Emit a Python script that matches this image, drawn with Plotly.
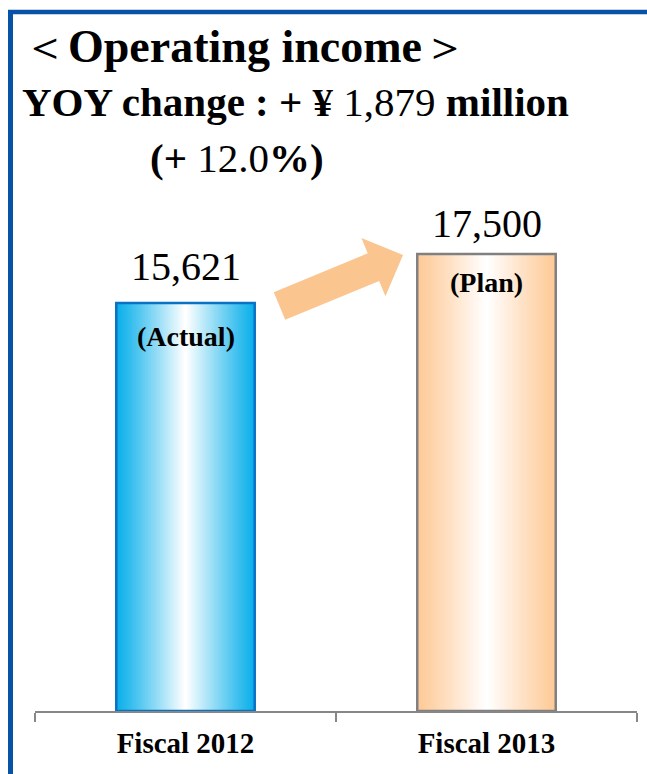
import plotly.graph_objects as go

# Operating income, millions of yen
categories = ["Fiscal 2012", "Fiscal 2013"]
values = [15621, 17500]
bar_tags = ["(Actual)", "(Plan)"]
yoy_change = 1879
yoy_pct = 12.0

W, H = 647, 774
M_L, M_R, M_T, M_B = 35, 10, 180, 63
PLOT_W = W - M_L - M_R
PLOT_H = H - M_T - M_B
Y_MAX = 20332

SERIF = "Liberation Serif"
EDGE_COLORS = [(12, 176, 234), (254, 202, 152)]
OUTLINE_COLORS = ["#0A72C4", "#808080"]
BAR_W = 0.46
LAYERS = 46


def px_x(px):
    return (px - M_L) / PLOT_W


def px_y(py):
    return (H - M_B - py) / PLOT_H


def mix(c, t):
    r, g, b = (round(ci + (255 - ci) * t) for ci in c)
    return f"rgb({r},{g},{b})"


fig = go.Figure()

# horizontal gradient: nested bars fading from the edge colour to white at the centre
for k in range(LAYERS):
    t = k / (LAYERS - 1)
    fig.add_trace(go.Bar(
        x=categories, y=values,
        width=BAR_W * (1 - k / LAYERS),
        marker=dict(color=[mix(c, t ** 1.1) for c in EDGE_COLORS], line=dict(width=0)),
        hoverinfo="skip", showlegend=False,
    ))

# outline on top of the gradient
fig.add_trace(go.Bar(
    x=categories, y=values, width=BAR_W,
    marker=dict(color="rgba(0,0,0,0)", line=dict(color=OUTLINE_COLORS, width=2.5)),
    hoverinfo="skip", showlegend=False,
))

annotations = []
for cat, v, tag, dy_val, dy_tag in zip(categories, values, bar_tags, [37, 30], [-33, -29]):
    annotations.append(dict(
        x=cat, y=v, xref="x", yref="y", text=f"{v:,}", showarrow=False,
        yanchor="middle", yshift=dy_val, font=dict(family=SERIF, size=40, color="black"),
    ))
    annotations.append(dict(
        x=cat, y=v, xref="x", yref="y", text=f"<b>{tag}</b>", showarrow=False,
        yanchor="middle", yshift=dy_tag, font=dict(family=SERIF, size=28, color="black"),
    ))

annotations += [
    dict(x=px_x(20), y=px_y(46), xref="paper", yref="paper", xanchor="left", yanchor="middle",
         text="＜<b>Operating income</b>＞", showarrow=False,
         font=dict(family=SERIF, size=46, color="black")),
    dict(x=px_x(20), y=px_y(102), xref="paper", yref="paper", xanchor="left", yanchor="middle",
         text=f"<b>YOY change : + ¥</b> {yoy_change:,} <b>million</b>", showarrow=False,
         font=dict(family=SERIF, size=41, color="black")),
    dict(x=px_x(148), y=px_y(158), xref="paper", yref="paper", xanchor="left", yanchor="middle",
         text=f"<b>(+</b> {yoy_pct:.1f}<b>%)</b>", showarrow=False,
         font=dict(family=SERIF, size=41, color="black")),
]

# thick arrow between the bars
tail, tip = (279.5, 306.0), (403.0, 255.0)
shaft_half, head_half, head_len = 15.0, 31.5, 32.0
dx, dy = tip[0] - tail[0], tip[1] - tail[1]
L = (dx * dx + dy * dy) ** 0.5
ux, uy = dx / L, dy / L
nx, ny = -uy, ux
bx, by = tip[0] - ux * head_len, tip[1] - uy * head_len
pts = [
    (tail[0] + nx * shaft_half, tail[1] + ny * shaft_half),
    (bx + nx * shaft_half, by + ny * shaft_half),
    (bx + nx * head_half, by + ny * head_half),
    tip,
    (bx - nx * head_half, by - ny * head_half),
    (bx - nx * shaft_half, by - ny * shaft_half),
    (tail[0] - nx * shaft_half, tail[1] - ny * shaft_half),
]
path = "M " + " L ".join(f"{px_x(x):.5f},{px_y(y):.5f}" for x, y in pts) + " Z"

shapes = [
    dict(type="path", path=path, xref="paper", yref="paper",
         fillcolor="#FBC590", line=dict(width=0), layer="above"),
    # frame lines
    dict(type="line", xref="paper", yref="paper", x0=px_x(8), x1=px_x(650), y0=px_y(12), y1=px_y(12),
         line=dict(color="#0652A6", width=4.5)),
    dict(type="line", xref="paper", yref="paper", x0=px_x(10.5), x1=px_x(10.5), y0=px_y(10), y1=px_y(780),
         line=dict(color="#0652A6", width=5)),
]

fig.update_layout(
    width=W, height=H,
    margin=dict(l=M_L, r=M_R, t=M_T, b=M_B),
    barmode="overlay",
    plot_bgcolor="white", paper_bgcolor="white",
    annotations=annotations, shapes=shapes,
    font=dict(family=SERIF),
    xaxis=dict(
        type="category", range=[-0.5, 1.5], showgrid=False, zeroline=False,
        showline=True, linecolor="#878787", linewidth=2,
        ticks="outside", tickson="boundaries", ticklen=9, tickwidth=2, tickcolor="#878787",
        tickfont=dict(family=SERIF, size=29, color="black"),
        tickvals=categories, ticktext=[f"<b>{c}</b>" for c in categories],
        ticklabelstandoff=5,
    ),
    yaxis=dict(range=[0, Y_MAX], visible=False, showgrid=False, zeroline=False),
)

fig.write_html("out.html")
